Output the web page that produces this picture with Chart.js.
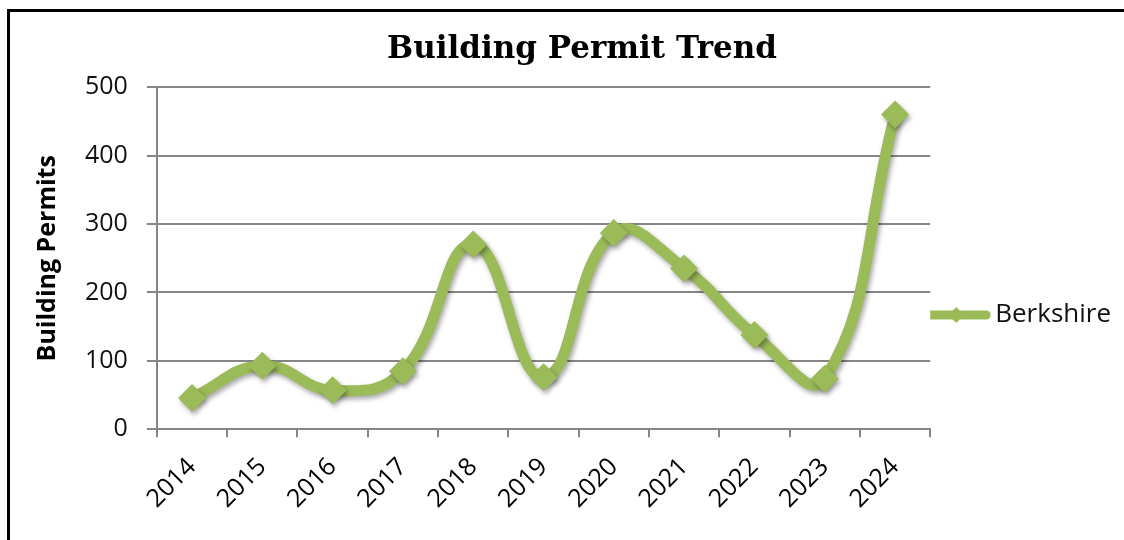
<!DOCTYPE html>
<html lang="en">
<head>
  <meta charset="UTF-8">
  <title>Building Permit Trend</title>
  <script src="https://cdn.jsdelivr.net/npm/chart.js"></script>
  <style>
    html, body { margin: 0; padding: 0; background: #fff; overflow: hidden; }
    .frame {
      position: absolute; left: 7px; top: 9px; width: 2000px; height: 2000px;
      border-left: 3px solid #000; border-top: 3px solid #000;
    }
    #permit-chart { position: absolute; left: 0; top: 0; }
  </style>
</head>
<body>
  <div class="frame"></div>
  <canvas id="permit-chart" width="1124" height="540"></canvas>

  <script>
const years = ["2014", "2015", "2016", "2017", "2018", "2019", "2020", "2021", "2022", "2023", "2024"];
const berkshire = [46, 93, 57, 85, 270, 76, 287, 235, 138, 74, 460];
const yTicks = [0, 100, 200, 300, 400, 500];

const green = "#9BBB59";
const gridGray = "#868686";

// legend sample: a short line with a small diamond, like the spreadsheet legend
const legendMark = document.createElement("canvas");
legendMark.width = 72;
legendMark.height = 26;
(function () {
  const c = legendMark.getContext("2d");
  c.strokeStyle = green;
  c.lineWidth = 9;
  c.lineCap = "round";
  c.beginPath();
  c.moveTo(6, 13);
  c.lineTo(66, 13);
  c.stroke();
  c.fillStyle = green;
  c.beginPath();
  c.moveTo(36, 5);
  c.lineTo(44, 13);
  c.lineTo(36, 21);
  c.lineTo(28, 13);
  c.closePath();
  c.fill();
})();

// soft drop shadow under the line and markers
const shadowPlugin = {
  id: "shadow",
  beforeDatasetsDraw(chart) {
    const ctx = chart.ctx;
    ctx.save();
    ctx.shadowColor = "rgba(0,0,0,0.35)";
    ctx.shadowBlur = 5;
    ctx.shadowOffsetX = 2;
    ctx.shadowOffsetY = 3;
  },
  afterDatasetsDraw(chart) {
    chart.ctx.restore();
  }
};

new Chart("permit-chart", {
  type: "line",
  data: {
    labels: years,
    datasets: [{
      label: "Berkshire",
      data: berkshire,
      borderColor: green,
      backgroundColor: green,
      borderWidth: 11,
      borderCapStyle: "round",
      tension: 0.45,
      fill: false,
      pointStyle: "rectRot",
      pointRadius: 14,
      pointBackgroundColor: green,
      pointBorderWidth: 0
    }]
  },
  plugins: [shadowPlugin],
  options: {
    responsive: false,
    animation: false,
    layout: { padding: { left: 43, right: 3, top: 31, bottom: 11 } },
    plugins: {
      title: {
        display: true,
        text: "Building Permit Trend",
        color: "#000",
        font: { family: "DejaVu Serif", weight: "bold", size: 31 },
        padding: { top: 0, bottom: 19 }
      },
      legend: {
        position: "right",
        // empty title only pushes the entry down to where the original sits
        title: { display: true, text: "", font: { size: 0 }, padding: { top: 0, bottom: 70 } },
        labels: {
          usePointStyle: true,
          pointStyle: legendMark,
          pointStyleWidth: 52,
          color: "#111",
          padding: 0,
          font: { family: "Open Sans", size: 26 }
        }
      },
      tooltip: { enabled: false }
    },
    scales: {
      x: {
        offset: true,
        grid: {
          offset: true,
          drawOnChartArea: false,
          tickLength: 8,
          color: gridGray,
          lineWidth: 2
        },
        border: { color: gridGray, width: 2 },
        ticks: {
          minRotation: 45,
          maxRotation: 45,
          color: "#000",
          padding: 15,
          font: { family: "Open Sans", size: 25 }
        }
      },
      y: {
        min: yTicks[0],
        max: yTicks[yTicks.length - 1],
        afterBuildTicks(scale) {
          scale.ticks = yTicks.map(v => ({ value: v }));
        },
        grid: { color: gridGray, lineWidth: 2, tickLength: 10 },
        border: { color: gridGray, width: 2 },
        ticks: {
          color: "#111",
          padding: 19,
          font: { family: "Open Sans", size: 25 }
        },
        title: {
          display: true,
          text: "Building Permits",
          color: "#000",
          padding: { top: -10, bottom: 3 },
          font: { family: "Open Sans", weight: "bold", size: 25 }
        }
      }
    }
  }
});
  </script>
</body>
</html>
